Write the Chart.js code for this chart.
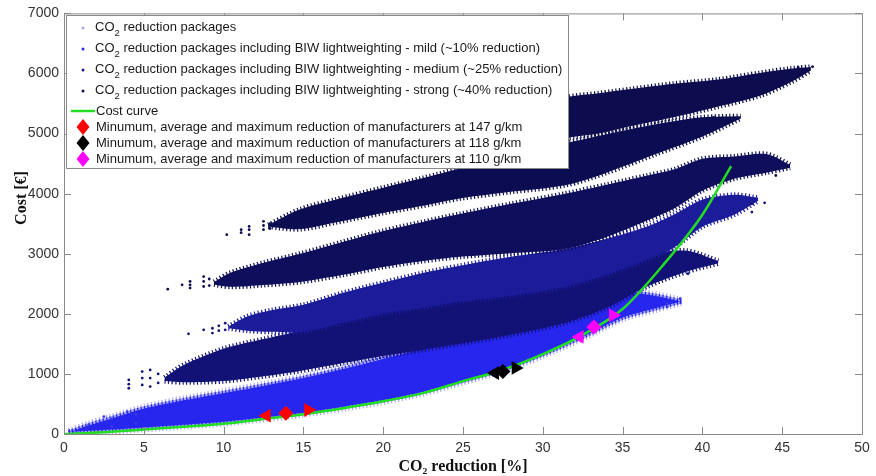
<!DOCTYPE html>
<html>
<head>
<meta charset="utf-8">
<script src="https://cdn.jsdelivr.net/npm/chart.js@4.4.1/dist/chart.umd.min.js"></script>
<style>
  html, body { margin: 0; padding: 0; background: #fff; }
  #wrap { width: 876px; height: 476px; }
</style>
</head>
<body>
<div id="wrap"><canvas id="chart" width="876" height="476"></canvas></div>
<script>
// Kostenkurve (grün)
const kurveX = [0, 2.5, 5, 7.5, 10, 12.5, 15, 17.5, 20, 22.5, 25, 27.5, 30, 32.5, 35, 37.5, 40, 41.8];
const kurveY = [0, 30, 75, 120, 170, 250, 330, 430, 545, 680, 880, 1070, 1330, 1650, 2080, 2800, 3650, 4460];

// Hersteller: Minimum, Mittelwert, Maximum
const reduktion147 = [12.7, 13.9, 15.3];
const kosten147 = [305, 345, 399];
const reduktion118 = [27.0, 27.5, 28.3];
const kosten118 = [1015, 1040, 1100];
const reduktion110 = [32.3, 33.2, 34.4];
const kosten110 = [1616, 1782, 1977];

// Punktwolken als Bänder: x, untere Kante, obere Kante
// Basispakete (unterstes Band)
const bandL1x  = [0.3, 1.5, 3, 5, 7.5, 10, 12.5, 15, 17.5, 20, 22.5, 25, 27.5, 30, 32.5, 35, 37, 38.7];
const bandL1lo = [0, 15, 35, 70, 115, 165, 235, 315, 415, 525, 665, 850, 1040, 1290, 1580, 1900, 2050, 2170];
const bandL1hi = [20, 140, 260, 420, 560, 680, 800, 930, 1080, 1250, 1420, 1600, 1790, 1980, 2170, 2350, 2300, 2200];
// leichtes BIW-Leichtbau-Paket
const bandL2x  = [6.3, 7.5, 10, 12.5, 14.8, 17.5, 20, 22.5, 24.8, 28, 31.4, 34, 36.5, 39, 41];
const bandL2lo = [880, 860, 880, 960, 1050, 1180, 1300, 1400, 1500, 1650, 1850, 2100, 2450, 2700, 2840];
const bandL2hi = [940, 1150, 1420, 1580, 1720, 1900, 2080, 2220, 2350, 2500, 2680, 2850, 3000, 3050, 2880];
// mittleres Paket
const bandM1x  = [10.3, 11.5, 13, 15, 17.5, 20, 22.5, 24.8, 28, 31.4, 34, 36.5, 38.2, 40, 42, 43.5];
const bandM1lo = [1760, 1720, 1700, 1700, 1850, 2000, 2100, 2200, 2300, 2450, 2650, 2900, 3100, 3450, 3650, 3880];
const bandM1hi = [1790, 1960, 2060, 2150, 2350, 2520, 2680, 2800, 2950, 3080, 3250, 3450, 3650, 3900, 3980, 3930];
const bandM2x  = [9.4, 10.4, 12.5, 14.8, 17.5, 20, 22.5, 24.8, 28, 31.4, 34, 36.5, 38.2, 40, 42, 44, 45.5];
const bandM2lo = [2490, 2450, 2480, 2530, 2650, 2780, 2880, 2950, 3010, 3080, 3280, 3550, 3750, 4050, 4250, 4350, 4430];
const bandM2hi = [2530, 2680, 2850, 3000, 3200, 3380, 3530, 3660, 3830, 4000, 4150, 4300, 4400, 4580, 4620, 4660, 4480];
// starkes Paket
const bandSx  = [12.8, 14.8, 17, 20, 22.5, 24.8, 28, 31.4, 34, 37, 40, 42.4];
const bandSlo = [3450, 3410, 3520, 3680, 3800, 3920, 4030, 4140, 4350, 4650, 4950, 5250];
const bandShi = [3480, 3740, 3900, 4100, 4260, 4420, 4640, 4840, 4990, 5150, 5270, 5290];
const bandTx  = [24, 27, 29, 31.4, 33.5, 35.5, 38.2, 41, 43.6, 45.5, 46.8];
const bandTlo = [4450, 4600, 4750, 4920, 5000, 5120, 5270, 5450, 5630, 5850, 6050];
const bandThi = [4900, 5150, 5400, 5600, 5670, 5740, 5830, 5900, 6010, 6080, 6110];

// einzelne Punktsäulen an den Rändern der Wolken
const streuDunkelX = [10.2, 11.1, 11.1, 11.6, 11.6, 11.6, 12.5, 12.5, 12.5, 12.9, 12.9, 13.3,
                      38.6, 39.45, 39.45, 40.5, 40.7, 45.4, 46.0, 46.0, 46.9,
                      6.5, 7.4, 7.9, 7.9, 7.9, 8.75, 8.75, 8.75, 9.1, 9.1,
                      44.6, 44.6, 45.4];
const streuDunkelY = [3317, 3400, 3350, 3455, 3400, 3317, 3540, 3470, 3400, 3500, 3420, 3467,
                      5103, 5131, 4937, 5093, 5270, 6018, 6100, 5965, 6112,
                      2411, 2483, 2540, 2480, 2428, 2620, 2540, 2455, 2580, 2470,
                      4413, 4302, 4451];
const streuMittelX = [7.8, 8.75, 9.3, 9.3, 9.7, 9.7, 10.1, 10.1,
                      43.1, 43.1, 43.9,
                      4.06, 4.06, 4.06, 4.9, 4.9, 4.9, 5.4, 5.4, 5.4, 5.9, 5.9,
                      39.1, 39.1, 40.2];
const streuMittelY = [1667, 1733, 1760, 1680, 1800, 1720, 1845, 1733,
                      3831, 3693, 3848,
                      900, 830, 761, 1039, 930, 817, 1067, 930, 789, 1000, 850,
                      2834, 2669, 2846];
const streuBlauX = [1.56, 2.5, 3.0, 3.0, 3.96, 4.5, 4.5, 37.8, 37.8, 38.6];
const streuBlauY = [150, 290, 122, 250, 372, 178, 330, 2170, 2115, 2253];

const punkte = (xs, ys) => xs.map((x, i) => ({ x: x, y: ys[i] }));

// obere Kante füllt bis zur unteren Kante (nächster Datensatz);
// die gestrichelte dicke Randlinie gibt den fransigen Rand der Wolke
function band(xs, lo, hi, farbe) {
  const rand = { borderWidth: 5, borderColor: farbe, borderDash: [1.2, 2.4], pointRadius: 0, tension: 0.3 };
  return [
    Object.assign({ data: punkte(xs, hi), fill: '+1', backgroundColor: farbe }, rand),
    Object.assign({ data: punkte(xs, lo), fill: false }, rand)
  ];
}

function marker(xs, ys, farbe) {
  return {
    data: punkte(xs, ys),
    showLine: false,
    pointStyle: ['triangle', 'rectRot', 'triangle'],
    rotation: [-90, 0, 90],
    pointRadius: [8, 7.5, 8],
    pointBackgroundColor: farbe,
    pointBorderColor: farbe,
    pointBorderWidth: 0
  };
}

function streu(xs, ys, farbe) {
  return { data: punkte(xs, ys), showLine: false, pointRadius: 1.4, pointBackgroundColor: farbe, pointBorderWidth: 0 };
}

// Reihenfolge: erster Datensatz liegt oben
const datensaetze = [
  marker(reduktion147, kosten147, '#ff0000'),
  marker(reduktion118, kosten118, '#000000'),
  marker(reduktion110, kosten110, '#ff00ff'),
  { data: punkte(kurveX, kurveY), borderColor: '#22dd22', borderWidth: 2.5, pointRadius: 0, fill: false, cubicInterpolationMode: 'monotone' },
  streu(streuDunkelX, streuDunkelY, '#0c0c50'),
  streu(streuMittelX, streuMittelY, '#14147a'),
  streu(streuBlauX, streuBlauY, '#3a3ae8'),
  ...band(bandTx, bandTlo, bandThi, '#0c0c4e'),
  ...band(bandSx, bandSlo, bandShi, '#0c0c52'),
  ...band(bandM2x, bandM2lo, bandM2hi, '#0e0e5c'),
  ...band(bandM1x, bandM1lo, bandM1hi, '#1c1c9a'),
  ...band(bandL2x, bandL2lo, bandL2hi, '#121276'),
  ...band(bandL1x, bandL1lo.map(v => v + 40), bandL1hi, '#2626ee'),
  ...band(bandL1x, bandL1lo, bandL1hi.map(v => v + 40), '#a8a8f8')
];

const legendeEintraege = [
  { art: 'punkt', farbe: '#a9a9f2', text: ['CO', '2', ' reduction packages'] },
  { art: 'punkt', farbe: '#2a2ae0', text: ['CO', '2', ' reduction packages including BIW lightweighting - mild (~10% reduction)'] },
  { art: 'punkt', farbe: '#1a1a8a', text: ['CO', '2', ' reduction packages including BIW lightweighting - medium (~25% reduction)'] },
  { art: 'punkt', farbe: '#0c0c4a', text: ['CO', '2', ' reduction packages including BIW lightweighting - strong (~40% reduction)'] },
  { art: 'linie', farbe: '#22dd22', text: ['Cost curve'] },
  { art: 'raute', farbe: '#ff0000', text: ['Minumum, average and maximum reduction of manufacturers at 147 g/km'] },
  { art: 'raute', farbe: '#000000', text: ['Minumum, average and maximum reduction of manufacturers at 118 g/km'] },
  { art: 'raute', farbe: '#ff00ff', text: ['Minumum, average and maximum reduction of manufacturers at 110 g/km'] }
];
const legendeZeilen = [27, 48, 69, 90, 111, 127, 143, 159];
const schrift = '"Liberation Sans", Arial, sans-serif';
const serif = '"Liberation Serif", "Times New Roman", serif';

// Striche nach innen auf allen vier Seiten, wie bei MATLAB, dazu die y-Achsenbeschriftung
const achsenStriche = {
  id: 'achsenStriche',
  afterDraw(chart) {
    const { ctx, chartArea: a, scales } = chart;
    ctx.save();
    ctx.strokeStyle = '#8a8a8a';
    ctx.lineWidth = 1;
    ctx.strokeRect(a.left + 0.5, a.top + 0.5, a.right - a.left, a.bottom - a.top);
    ctx.beginPath();
    scales.x.ticks.forEach(t => {
      const px = Math.round(scales.x.getPixelForValue(t.value)) + 0.5;
      ctx.moveTo(px, a.bottom); ctx.lineTo(px, a.bottom - 7);
      ctx.moveTo(px, a.top); ctx.lineTo(px, a.top + 7);
    });
    scales.y.ticks.forEach(t => {
      const py = Math.round(scales.y.getPixelForValue(t.value)) + 0.5;
      ctx.moveTo(a.left, py); ctx.lineTo(a.left + 7, py);
      ctx.moveTo(a.right, py); ctx.lineTo(a.right - 7, py);
    });
    ctx.stroke();

    ctx.translate(22, 198);
    ctx.rotate(-Math.PI / 2);
    ctx.font = 'bold 16px ' + serif;
    ctx.fillStyle = '#111111';
    ctx.textAlign = 'center';
    ctx.textBaseline = 'middle';
    ctx.fillText('Cost [€]', 0, 0);
    ctx.restore();
  }
};

// Legende im Diagramm, mit tiefgestellter 2
const legende = {
  id: 'legende',
  afterDraw(chart) {
    const ctx = chart.ctx;
    const links = 66, oben = 15, breite = 502, hoehe = 153;
    ctx.save();
    ctx.fillStyle = '#ffffff';
    ctx.fillRect(links, oben, breite, hoehe);
    ctx.strokeStyle = '#8a8a8a';
    ctx.lineWidth = 1;
    ctx.strokeRect(links + 0.5, oben + 0.5, breite, hoehe);
    legendeEintraege.forEach((e, i) => {
      const y = legendeZeilen[i];
      const mx = 83;
      ctx.fillStyle = e.farbe;
      if (e.art === 'punkt') {
        ctx.beginPath(); ctx.arc(mx, y + 1, 1.5, 0, Math.PI * 2); ctx.fill();
      } else if (e.art === 'linie') {
        ctx.strokeStyle = e.farbe; ctx.lineWidth = 2.5;
        ctx.beginPath(); ctx.moveTo(71, y); ctx.lineTo(95, y); ctx.stroke();
      } else {
        ctx.beginPath();
        ctx.moveTo(mx, y - 8); ctx.lineTo(mx + 6.5, y); ctx.lineTo(mx, y + 8); ctx.lineTo(mx - 6.5, y);
        ctx.closePath(); ctx.fill();
      }
      ctx.fillStyle = '#1a1a1a';
      ctx.textBaseline = 'middle';
      let x = e.art === 'punkt' ? 95 : 96;
      e.text.forEach((teil, k) => {
        const tief = e.text.length > 1 && k === 1;
        ctx.font = (tief ? '9.5px ' : '13px ') + schrift;
        ctx.fillText(teil, x, tief ? y + 6 : y);
        x += ctx.measureText(teil).width;
      });
    });
    ctx.restore();
  }
};

Chart.defaults.font.family = schrift;
Chart.defaults.color = '#333333';

new Chart(document.getElementById('chart').getContext('2d'), {
  type: 'line',
  data: { datasets: datensaetze },
  options: {
    responsive: false,
    animation: false,
    devicePixelRatio: 1,
    layout: { padding: { top: 13, right: 14, left: 0, bottom: 0 } },
    plugins: { legend: { display: false }, tooltip: { enabled: false } },
    elements: { point: { hitRadius: 0 } },
    scales: {
      x: {
        type: 'linear', min: 0, max: 50,
        ticks: { stepSize: 5, padding: 6, font: { size: 14, family: schrift }, color: '#333333', maxRotation: 0, callback: v => String(v) },
        grid: { display: false, drawTicks: false },
        border: { display: true, color: '#8a8a8a' },
        title: { display: true, text: 'CO₂ reduction [%]', font: { family: serif, size: 16, weight: 'bold' }, color: '#111111', padding: { top: 1, bottom: 0 } },
        afterFit(s) { s.height = 42; }
      },
      y: {
        type: 'linear', min: 0, max: 7000,
        ticks: { stepSize: 1000, padding: 5, font: { size: 14, family: schrift }, color: '#333333', callback: v => String(v) },
        grid: { display: false, drawTicks: false },
        border: { display: true, color: '#8a8a8a' },
        afterFit(s) { s.width = 64; }
      }
    }
  },
  plugins: [achsenStriche, legende]
});
</script>
</body>
</html>
